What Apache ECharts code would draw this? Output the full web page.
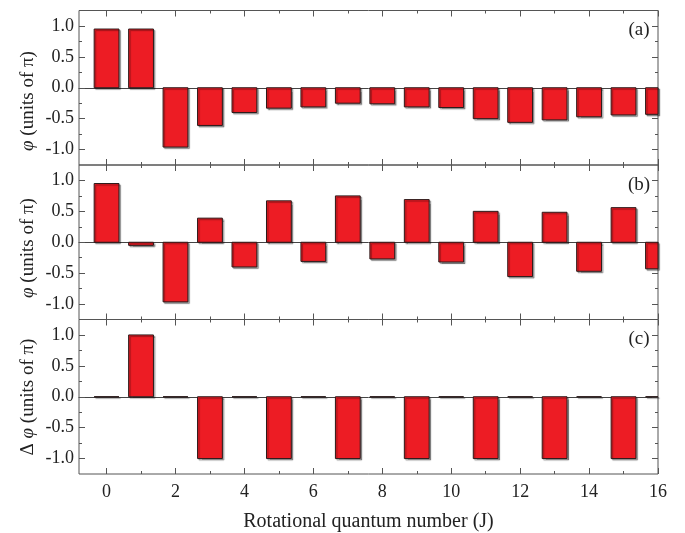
<!DOCTYPE html>
<html>
<head>
<meta charset="utf-8">
<script src="https://cdn.jsdelivr.net/npm/echarts@6/dist/echarts.min.js"></script>
<style>
  html, body { margin: 0; padding: 0; background: #fff; }
  #chart { width: 685px; height: 533px; }
</style>
</head>
<body>
<div id="chart"></div>
<script>
// rotational quantum number J
const J = [0, 1, 2, 3, 4, 5, 6, 7, 8, 9, 10, 11, 12, 13, 14, 15, 16]
// panel (a)
const phiA = [0.95, 0.95, -0.96, -0.61, -0.40, -0.33, -0.31, -0.25, -0.26, -0.31, -0.32, -0.50, -0.56, -0.52, -0.47, -0.44, -0.43]
// panel (b)
const phiB = [0.95, -0.05, -0.965, 0.39, -0.40, 0.67, -0.31, 0.75, -0.27, 0.69, -0.32, 0.50, -0.555, 0.485, -0.47, 0.56, -0.43]
// panel (c)
const dPhi = [0, 1.0, 0, -1.0, 0, -1.0, 0, -1.0, 0, -1.0, 0, -1.0, 0, -1.0, 0, -1.0, 0]

const xMajor = [0, 2, 4, 6, 8, 10, 12, 14, 16]
const xMinor = [1, 3, 5, 7, 9, 11, 13, 15]
const yMajor = [-1.0, -0.5, 0.0, 0.5, 1.0]
const yMinor = [-0.75, -0.25, 0.25, 0.75]
const panelLabels = ['(a)', '(b)', '(c)']
const yNames = ['{i|φ} (units of π)', '{i|φ} (units of π)', 'Δ {i|φ} (units of π)']
const xName = 'Rotational quantum number (J)'

const FONT = "'Liberation Serif', 'Times New Roman', serif"
const AXIS = '#555'
const TEXT = '#222'
const BAR_W = 0.72 // bar width in J units

const myChart = echarts.init(document.getElementById('chart'))

const gridTops = [10.5, 165, 319.5]
const gridH = 154.5
const dataSets = [phiA, phiB, dPhi]

const grids = [], xAxes = [], yAxes = [], series = [], graphics = []

// bars drawn via the axes scales, clipped to the panel
function renderBar(params, api) {
  const x = api.value(0), y = api.value(1)
  const p0 = api.coord([x, 0])
  const p1 = api.coord([x, y])
  const w = api.size([BAR_W, 0])[0]
  const cs = params.coordSys
  const rect = echarts.graphic.clipRectByRect(
    { x: p0[0] - w / 2, y: Math.min(p0[1], p1[1]), width: w, height: Math.abs(p1[1] - p0[1]) },
    { x: cs.x, y: cs.y, width: cs.width, height: cs.height }
  )
  if (!rect) return
  return {
    type: 'rect',
    shape: rect,
    style: {
      fill: '#ED1C24',
      stroke: '#2a1a1a',
      lineWidth: 1,
      shadowColor: 'rgba(0,0,0,0.35)',
      shadowOffsetX: 1.5,
      shadowOffsetY: 1.5,
      shadowBlur: 1
    }
  }
}

gridTops.forEach((top, i) => {
  grids.push({
    left: 79, right: 27, top: top, height: gridH,
    show: true, borderColor: AXIS, borderWidth: 1, backgroundColor: 'transparent'
  })
  const last = i === gridTops.length - 1
  const mkX = (pos, ticks, len, showLabel) => ({
    type: 'value', gridIndex: i, position: pos, min: -0.8, max: 16,
    axisLine: { show: false, onZero: false },
    splitLine: { show: false },
    axisTick: { show: true, inside: true, length: len, customValues: ticks, lineStyle: { color: AXIS, width: 1 } },
    axisLabel: {
      show: showLabel, customValues: ticks, margin: 9,
      fontFamily: FONT, fontSize: 18, color: TEXT
    },
    name: showLabel ? xName : '',
    nameLocation: 'middle', nameGap: 38,
    nameTextStyle: { fontFamily: FONT, fontSize: 20, color: TEXT }
  })
  // bottom major, bottom minor, top major, top minor
  xAxes.push(mkX('bottom', xMajor, 6, last))
  xAxes.push(mkX('bottom', xMinor, 3, false))
  xAxes.push(mkX('top', xMajor, 6, false))
  xAxes.push(mkX('top', xMinor, 3, false))
  // zero line
  xAxes.push({
    type: 'value', gridIndex: i, min: -0.8, max: 16,
    axisLine: { show: true, onZero: true, lineStyle: { color: '#444', width: 1 } },
    axisTick: { show: false }, axisLabel: { show: false }, splitLine: { show: false }
  })

  const mkY = (pos, ticks, len, showLabel) => ({
    type: 'value', gridIndex: i, position: pos, min: -1.25, max: 1.25,
    axisLine: { show: false, onZero: false },
    splitLine: { show: false },
    axisTick: { show: true, inside: true, length: len, customValues: ticks, lineStyle: { color: AXIS, width: 1 } },
    axisLabel: {
      show: showLabel, customValues: ticks, margin: 5,
      fontFamily: FONT, fontSize: 18, color: TEXT,
      formatter: v => v.toFixed(1)
    }
  })
  yAxes.push(mkY('left', yMajor, 6, true))
  yAxes.push(mkY('left', yMinor, 3, false))
  yAxes.push(mkY('right', yMajor, 6, false))
  yAxes.push(mkY('right', yMinor, 3, false))

  series.push({
    type: 'custom',
    xAxisIndex: i * 5,
    yAxisIndex: i * 4,
    renderItem: renderBar,
    encode: { x: 0, y: 1 },
    data: J.map((j, k) => [j, dataSets[i][k]])
  })

  graphics.push({
    type: 'text', x: 639, y: top + 20,
    style: { text: panelLabels[i], fontFamily: FONT, fontSize: 19, fill: TEXT, align: 'center', verticalAlign: 'middle' }
  })
})

// y names, placed per panel
const yNameY = [101, 248, 397]
yNameY.forEach((y, i) => {
  graphics.push({
    type: 'text', x: 28, y: y, rotation: Math.PI / 2,
    style: {
      text: yNames[i], fontFamily: FONT, fontSize: 19, fill: TEXT,
      align: 'center', verticalAlign: 'middle',
      rich: { i: { fontFamily: FONT, fontSize: 19, fontStyle: 'italic', fill: TEXT } }
    }
  })
})

const option = {
  backgroundColor: '#fff',
  animation: false,
  grid: grids,
  xAxis: xAxes,
  yAxis: yAxes,
  series: series,
  graphic: graphics
}

myChart.setOption(option)
</script>
</body>
</html>
